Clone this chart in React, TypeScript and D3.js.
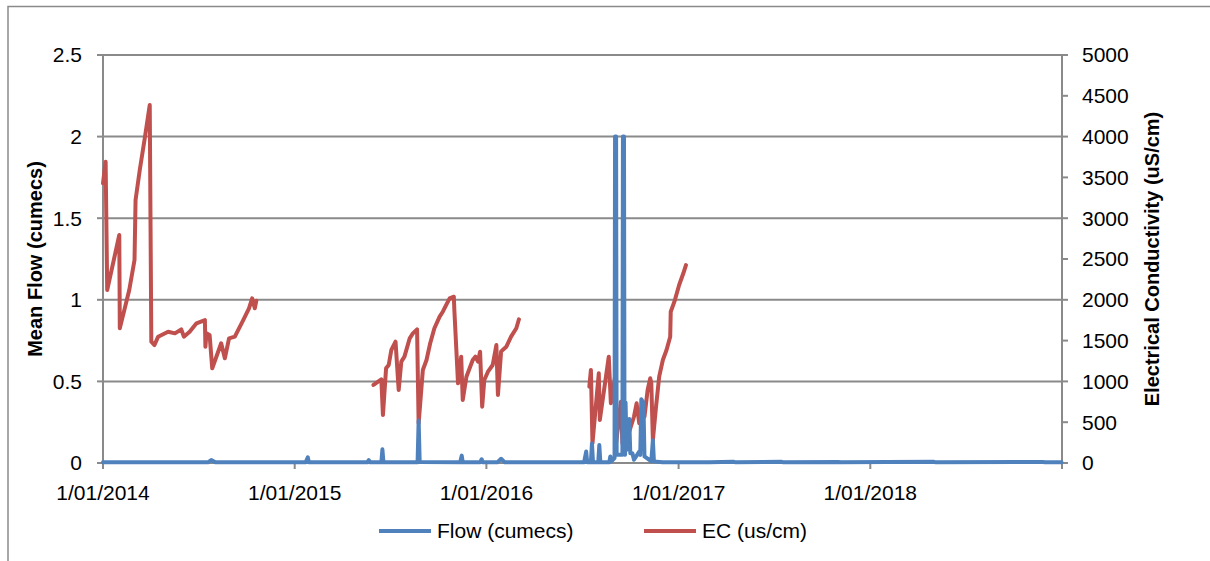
import React from "react";
import * as d3 from "d3";

// ---- data ----
const flowDates = [
  "2014-01-01","2014-03-01","2014-07-20","2014-07-26","2014-08-03","2014-10-01",
  "2015-01-22","2015-01-26","2015-01-28","2015-05-19","2015-05-22","2015-05-25",
  "2015-06-15","2015-06-17","2015-06-19","2015-08-23","2015-08-25","2015-08-27",
  "2015-11-12","2015-11-15","2015-11-17","2015-12-20","2015-12-23","2015-12-25",
  "2016-01-22","2016-01-29","2016-02-05","2016-07-05","2016-07-09","2016-07-11",
  "2016-07-18","2016-07-20","2016-07-22","2016-08-01","2016-08-03","2016-08-05",
  "2016-08-22","2016-08-24","2016-08-26","2016-09-01","2016-09-02","2016-09-04",
  "2016-09-05","2016-09-16","2016-09-17","2016-09-19","2016-09-20","2016-09-21",
  "2016-09-22","2016-09-24","2016-09-29","2016-10-01","2016-10-05","2016-10-08",
  "2016-10-18","2016-10-20","2016-10-22","2016-10-26","2016-10-28","2016-11-10",
  "2016-11-13","2016-11-15","2016-12-01","2017-03-01","2017-04-15","2017-04-20",
  "2017-07-15","2017-07-20","2017-11-01","2017-11-06","2018-05-01","2018-05-06",
  "2018-11-25","2018-11-30","2018-12-31",
];
const flowValues = [
  0.005,0.004,0.004,0.018,0.004,0.004,
  0.004,0.035,0.004,0.004,0.018,0.004,
  0.004,0.084,0.004,0.004,0.26,0.006,
  0.004,0.045,0.004,0.004,0.023,0.004,
  0.004,0.026,0.004,0.004,0.07,0.004,
  0.004,0.12,0.004,0.004,0.11,0.004,
  0.004,0.04,0.01,0.03,2.0,2.0,
  0.05,0.05,2.0,2.0,0.1,0.05,
  0.37,0.08,0.27,0.06,0.06,0.02,
  0.07,0.05,0.39,0.37,0.04,0.01,
  0.14,0.01,0.005,0.004,0.008,0.004,
  0.008,0.004,0.006,0.004,0.008,0.004,
  0.006,0.004,0.004,
];

const ecDates = [
  "2014-01-01","2014-01-06","2014-01-09","2014-02-01","2014-02-02","2014-02-20",
  "2014-03-02","2014-03-04","2014-03-12","2014-03-21","2014-03-31","2014-04-03",
  "2014-04-09","2014-04-16","2014-05-05","2014-05-18","2014-05-30","2014-06-04",
  "2014-06-15","2014-06-28","2014-07-14","2014-07-15","2014-07-17","2014-07-23",
  "2014-07-28","2014-08-14","2014-08-21","2014-08-29","2014-09-09","2014-09-25",
  "2014-10-06","2014-10-12","2014-10-17","2014-10-20",
  "2015-01-01",
  "2015-05-31","2015-06-15","2015-06-18","2015-06-24","2015-06-29","2015-07-04",
  "2015-07-12","2015-07-18","2015-07-23","2015-07-29","2015-08-08","2015-08-14",
  "2015-08-22","2015-08-25","2015-09-02","2015-09-09","2015-09-16","2015-09-24",
  "2015-10-04","2015-10-10","2015-10-18","2015-10-23","2015-10-31","2015-11-01",
  "2015-11-08","2015-11-14","2015-11-17","2015-11-24","2015-12-06","2015-12-11",
  "2015-12-16","2015-12-20","2015-12-24","2015-12-28","2016-01-04","2016-01-13",
  "2016-01-20","2016-01-23","2016-01-29","2016-02-01","2016-02-08","2016-02-17",
  "2016-02-27","2016-03-03",
  "2016-05-01",
  "2016-07-15","2016-07-18","2016-07-21","2016-08-02","2016-08-04","2016-08-21",
  "2016-08-25","2016-09-02","2016-09-04","2016-09-13","2016-09-16","2016-09-22",
  "2016-09-29","2016-10-08","2016-10-13","2016-10-18","2016-10-23","2016-10-28",
  "2016-11-03","2016-11-08","2016-11-10","2016-11-13","2016-11-19","2016-11-25",
  "2016-12-02","2016-12-09","2016-12-16","2016-12-17","2016-12-24","2017-01-02",
  "2017-01-10","2017-01-15",
];
const ecValues: (number | null)[] = [
  3428,3693,2120,2794,1650,2120,
  2488,3223,3590,3958,4387,1487,
  1446,1548,1609,1589,1638,1548,
  1609,1712,1752,1425,1589,1569,
  1160,1467,1283,1528,1548,1752,
  1896,2018,1896,1989,
  null,
  956,1025,588,1160,1201,1385,
  1487,895,1242,1303,1528,1589,
  1638,487,1140,1262,1467,1651,
  1793,1854,1957,2018,2038,1875,
  977,1303,772,1058,1262,1303,
  1242,1364,690,1017,1119,1201,
  1446,833,1364,1385,1425,1548,
  1651,1761,
  null,
  935,1140,241,1099,527,1303,
  732,1058,241,751,241,404,
  384,567,732,486,690,567,
  895,1038,977,282,690,1058,
  1262,1385,1548,1854,1977,2181,
  2325,2426,
];

const flowTicks = [0, 0.5, 1, 1.5, 2, 2.5];
const ecTicks = [0, 500, 1000, 1500, 2000, 2500, 3000, 3500, 4000, 4500, 5000];
const yearTicks = ["2014-01-01", "2015-01-01", "2016-01-01", "2017-01-01", "2018-01-01", "2019-01-01"];
const yearLabels = ["1/01/2014", "1/01/2015", "1/01/2016", "1/01/2017", "1/01/2018", ""];

const seriesNames = ["Flow (cumecs)", "EC (us/cm)"];

export default function App() {
  const parse = d3.timeParse("%Y-%m-%d");
  const left = 103, right = 1062, top = 55, bottom = 463;
  const x = d3.scaleTime().domain([parse("2014-01-01")!, parse("2019-01-01")!]).range([left, right]);
  const yF = d3.scaleLinear().domain([0, 2.5]).range([bottom, top]);
  const yE = d3.scaleLinear().domain([0, 5000]).range([bottom, top]);

  const flow = flowDates.map((d, i) => ({ d: parse(d)!, v: flowValues[i] }));
  const ec = ecDates.map((d, i) => ({ d: parse(d)!, v: ecValues[i] }));

  const flowLine = d3.line<{ d: Date; v: number }>().x(p => x(p.d)).y(p => yF(p.v));
  const ecLine = d3
    .line<{ d: Date; v: number | null }>()
    .defined(p => p.v !== null)
    .x(p => x(p.d))
    .y(p => yE(p.v as number));

  const grid = "#8a8a8a";
  const blue = "#4F81BD";
  const red = "#C0504D";
  const font = "'Liberation Sans', Arial, sans-serif";
  const fs = 21;

  return (
    <svg
      width={1210}
      height={561}
      style={{ position: "absolute", left: 0, top: 0, background: "#fff" }}
      fontFamily={font}
    >
      <rect x={8} y={6.5} width={1400} height={800} fill="#fff" stroke={grid} strokeWidth={1.5} />
      {/* gridlines */}
      {flowTicks.filter(t => t > 0).map(t => (
        <line key={"g" + t} x1={left} x2={right} y1={yF(t)} y2={yF(t)} stroke={grid} strokeWidth={2} />
      ))}
      {/* left axis */}
      <line x1={left} x2={left} y1={top} y2={bottom} stroke={grid} strokeWidth={2} />
      {flowTicks.map(t => (
        <g key={"lt" + t}>
          <line x1={left - 6} x2={left} y1={yF(t)} y2={yF(t)} stroke={grid} strokeWidth={2} />
          <text x={82} y={yF(t)} dy="0.35em" textAnchor="end" fontSize={fs} fill="#000">
            {String(t)}
          </text>
        </g>
      ))}
      {/* right axis */}
      <line x1={right} x2={right} y1={top} y2={bottom} stroke={grid} strokeWidth={2} />
      {ecTicks.map(t => (
        <g key={"rt" + t}>
          <line x1={right} x2={right + 6} y1={yE(t)} y2={yE(t)} stroke={grid} strokeWidth={2} />
          <text x={1082} y={yE(t)} dy="0.35em" textAnchor="start" fontSize={fs} fill="#000">
            {String(t)}
          </text>
        </g>
      ))}
      {/* x axis */}
      <line x1={left} x2={right} y1={bottom} y2={bottom} stroke={grid} strokeWidth={2} />
      {yearTicks.map((t, i) => (
        <g key={"xt" + t}>
          <line x1={x(parse(t)!)} x2={x(parse(t)!)} y1={bottom} y2={bottom + 6} stroke={grid} strokeWidth={2} />
          <text x={x(parse(t)!)} y={500} textAnchor="middle" fontSize={fs} fill="#000">
            {yearLabels[i]}
          </text>
        </g>
      ))}
      {/* axis titles */}
      <text
        transform={`translate(42,${(top + bottom) / 2}) rotate(-90)`}
        textAnchor="middle"
        fontSize={fs - 1}
        fontWeight="bold"
        fill="#000"
      >
        Mean Flow (cumecs)
      </text>
      <text
        transform={`translate(1159,${(top + bottom) / 2}) rotate(-90)`}
        textAnchor="middle"
        fontSize={fs - 1}
        fontWeight="bold"
        fill="#000"
      >
        Electrical Conductivity (uS/cm)
      </text>
      {/* series */}
      <path d={ecLine(ec) || ""} fill="none" stroke={red} strokeWidth={4} strokeLinejoin="round" strokeLinecap="round" />
      <path d={flowLine(flow) || ""} fill="none" stroke={blue} strokeWidth={4} strokeLinejoin="round" strokeLinecap="round" />
      {/* legend */}
      <line x1={379} x2={431} y1={531} y2={531} stroke={blue} strokeWidth={4} />
      <text x={437} y={538} fontSize={fs} fill="#000">{seriesNames[0]}</text>
      <line x1={644} x2={696} y1={531} y2={531} stroke={red} strokeWidth={4} />
      <text x={702} y={538} fontSize={fs} fill="#000">{seriesNames[1]}</text>
    </svg>
  );
}
